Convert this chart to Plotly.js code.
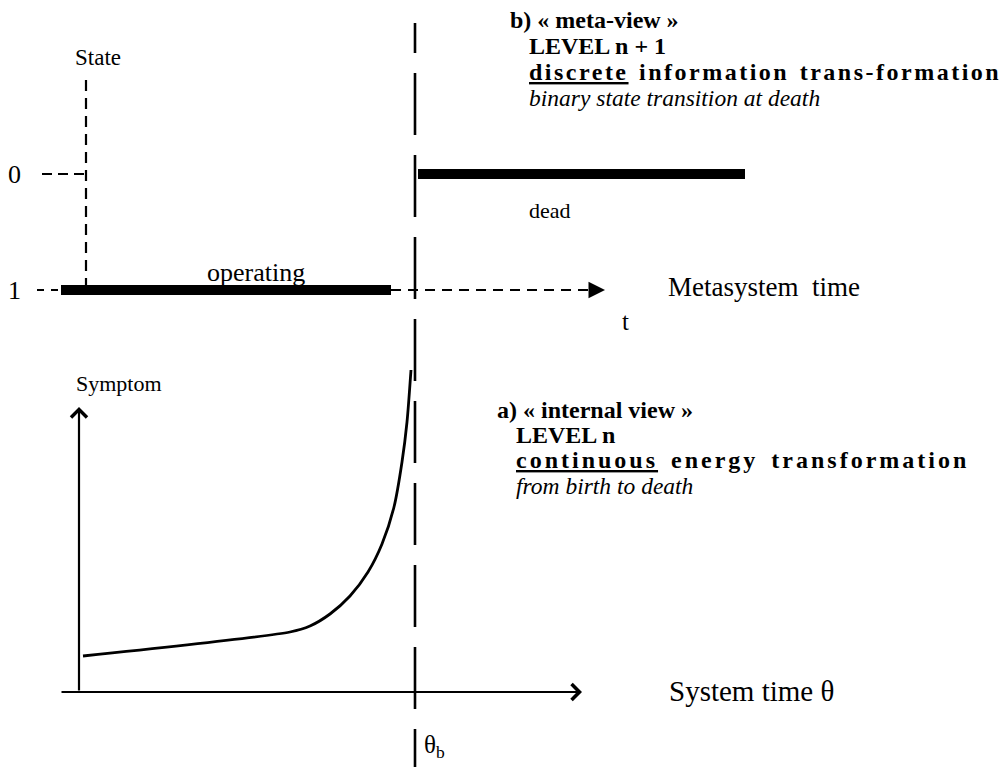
<!DOCTYPE html>
<html>
<head>
<meta charset="utf-8">
<script src="https://cdn.plot.ly/plotly-3.0.1.min.js"></script>
<style>
  html, body { margin: 0; padding: 0; background: #ffffff; }
  #chart { width: 1005px; height: 767px; }
</style>
</head>
<body>
<div id="chart"></div>
<script>
// ---------------- data ----------------
// Upper panel (meta-view): binary state vs metasystem time t
const stateLevels = [0, 1];
const stateTickLabels = ['0', '1'];
const stateAxisX = 86;            // position of the State axis on the time scale
const stateAxisTop = -0.81;       // top end of the dashed State axis (state units)
const operatingSpan = [61, 391];  // state 1 : operating
const deadSpan = [418, 745];      // state 0 : dead
const metaAxisSpan = [391, 605];  // dashed time axis continuing to its arrow
const tick0Span = [42, 86];
const tick1Span = [37, 61];

// Lower panel (internal view): symptom vs system time θ
const thetaB = 415;               // breakdown time θb
const sysAxisTheta = [60, 582];
const symptomAxisTop = 285;
const curveTheta   = [83, 290, 310, 330, 350, 368, 382, 394, 402, 407, 411];
const curveSymptom = [36, 60, 66, 78, 96, 120, 148, 185, 230, 270, 322];

// Text labels
const labelTexts = ['State', 'operating', 'dead', 'Metasystem  time', 't', 'Symptom', 'System time θ', 'θ<sub>b</sub>'];
const labelX = [73, 205, 527, 666, 620, 74, 667, 422];
const labelY = [58, 272, 210, 287, 322, 383, 691, 746];
const labelSize = [23, 26, 22, 27, 25, 22, 29, 25];

const SP = 'letter-spacing:2.5px;word-spacing:2px';
const metaLines = ['<b>b) « meta-view »</b>', '<b>LEVEL n + 1</b>',
                   '<b><span style="' + SP + '"><u>discrete</u> information trans-formation</span></b>',
                   '<i>binary state transition at death</i>'];
const metaX = [508, 527, 527, 527];
const metaY = [20, 46, 72, 98];
const metaSize = [24, 24, 24, 23.5];

const SP2 = 'letter-spacing:3px;word-spacing:4px';
const internalLines = ['<b>a) « internal view »</b>', '<b>LEVEL n</b>',
                       '<b><span style="' + SP2 + '"><u>continuous</u> energy transformation</span></b>',
                       '<i>from birth to death</i>'];
const internalX = [495, 514, 514, 514];
const internalY = [410, 435, 460, 486];
const internalSize = [24, 24, 24, 23.5];

// ---------------- figure ----------------
const W = 1005, H = 767;
const FONT = 'Liberation Serif, Times New Roman, serif';
const px = v => v / W;
const py = v => 1 - v / H;

const traces = [];
// State axis (dashed vertical)
traces.push({x: [stateAxisX, stateAxisX], y: [stateAxisTop, stateLevels[1]], mode: 'lines',
  line: {color: '#000', width: 2.2, dash: '11px,7px'}, hoverinfo: 'skip'});
// tick dashes
traces.push({x: tick0Span, y: [stateLevels[0], stateLevels[0]], mode: 'lines',
  line: {color: '#000', width: 2.2, dash: '10px,6px'}, hoverinfo: 'skip'});
traces.push({x: tick1Span, y: [stateLevels[1], stateLevels[1]], mode: 'lines',
  line: {color: '#000', width: 2.2, dash: '7px,7px'}, hoverinfo: 'skip'});
// dashed metasystem time axis
traces.push({x: [metaAxisSpan[0], metaAxisSpan[1] - 12], y: [stateLevels[1], stateLevels[1]], mode: 'lines',
  line: {color: '#000', width: 2.2, dash: '10px,7px'}, hoverinfo: 'skip'});
// operating bar (state 1)
traces.push({x: operatingSpan, y: [stateLevels[1], stateLevels[1]], mode: 'lines',
  line: {color: '#000', width: 10}, hoverinfo: 'skip'});
// dead bar (state 0)
traces.push({x: deadSpan, y: [stateLevels[0], stateLevels[0]], mode: 'lines',
  line: {color: '#000', width: 10}, hoverinfo: 'skip'});
// symptom curve
traces.push({x: curveTheta, y: curveSymptom, yaxis: 'y2', mode: 'lines',
  line: {color: '#000', width: 2.8, shape: 'spline', smoothing: 0.7}, hoverinfo: 'skip'});

// dash pattern for the θb line
const dashList = ['30px', '20px'];
for (let i = 0; i < 10; i++) { dashList.push('62px', '20px'); }

const shapes = [{
  type: 'line', xref: 'x', yref: 'paper', x0: thetaB, x1: thetaB, y0: py(23), y1: 0,
  line: {color: '#000', width: 2.6, dash: dashList.join(',')}
}];

const annotations = [];
// tick labels
stateLevels.forEach((s, i) => annotations.push({
  x: 14, y: s, xref: 'x', yref: 'y', text: stateTickLabels[i], showarrow: false,
  xanchor: 'center', yanchor: 'middle', font: {family: FONT, size: 26, color: '#000'}
}));
// filled arrow at end of metasystem axis
annotations.push({x: metaAxisSpan[1], y: stateLevels[1], xref: 'x', yref: 'y',
  ax: metaAxisSpan[1] - 16, ay: stateLevels[1], axref: 'x', ayref: 'y', text: '',
  showarrow: true, arrowhead: 2, arrowsize: 1.5, arrowwidth: 2.2, arrowcolor: '#000'});
// system time axis (chevron arrow)
annotations.push({x: sysAxisTheta[1], y: 0, xref: 'x', yref: 'y2',
  ax: sysAxisTheta[0], ay: 0, axref: 'x', ayref: 'y2', text: '',
  showarrow: true, arrowhead: 4, arrowsize: 1.4, arrowwidth: 2.2, arrowcolor: '#000'});
// symptom axis (chevron arrow)
annotations.push({x: curveTheta[0] - 4, y: symptomAxisTop, xref: 'x', yref: 'y2',
  ax: curveTheta[0] - 4, ay: 0, axref: 'x', ayref: 'y2', text: '',
  showarrow: true, arrowhead: 4, arrowsize: 1.4, arrowwidth: 2.2, arrowcolor: '#000'});

labelTexts.forEach((t, i) => annotations.push({
  x: px(labelX[i]), y: py(labelY[i]), xref: 'paper', yref: 'paper', text: t, showarrow: false,
  xanchor: 'left', yanchor: 'middle', font: {family: FONT, size: labelSize[i], color: '#000'}
}));
metaLines.forEach((t, i) => annotations.push({
  x: px(metaX[i]), y: py(metaY[i]), xref: 'paper', yref: 'paper', text: t, showarrow: false,
  xanchor: 'left', yanchor: 'middle', font: {family: FONT, size: metaSize[i], color: '#000'}
}));
internalLines.forEach((t, i) => annotations.push({
  x: px(internalX[i]), y: py(internalY[i]), xref: 'paper', yref: 'paper', text: t, showarrow: false,
  xanchor: 'left', yanchor: 'middle', font: {family: FONT, size: internalSize[i], color: '#000'}
}));

const layout = {
  width: W, height: H,
  margin: {l: 0, r: 0, t: 0, b: 0, pad: 0},
  paper_bgcolor: '#fff', plot_bgcolor: '#fff',
  showlegend: false,
  xaxis: {range: [0, W], visible: false, fixedrange: true},
  yaxis: {range: [5.1121, -1.5], visible: false, fixedrange: true},
  yaxis2: {range: [-75, 692], overlaying: 'y', visible: false, fixedrange: true},
  shapes: shapes,
  annotations: annotations
};

Plotly.newPlot('chart', traces, layout, {staticPlot: true, displayModeBar: false});
</script>
</body>
</html>
